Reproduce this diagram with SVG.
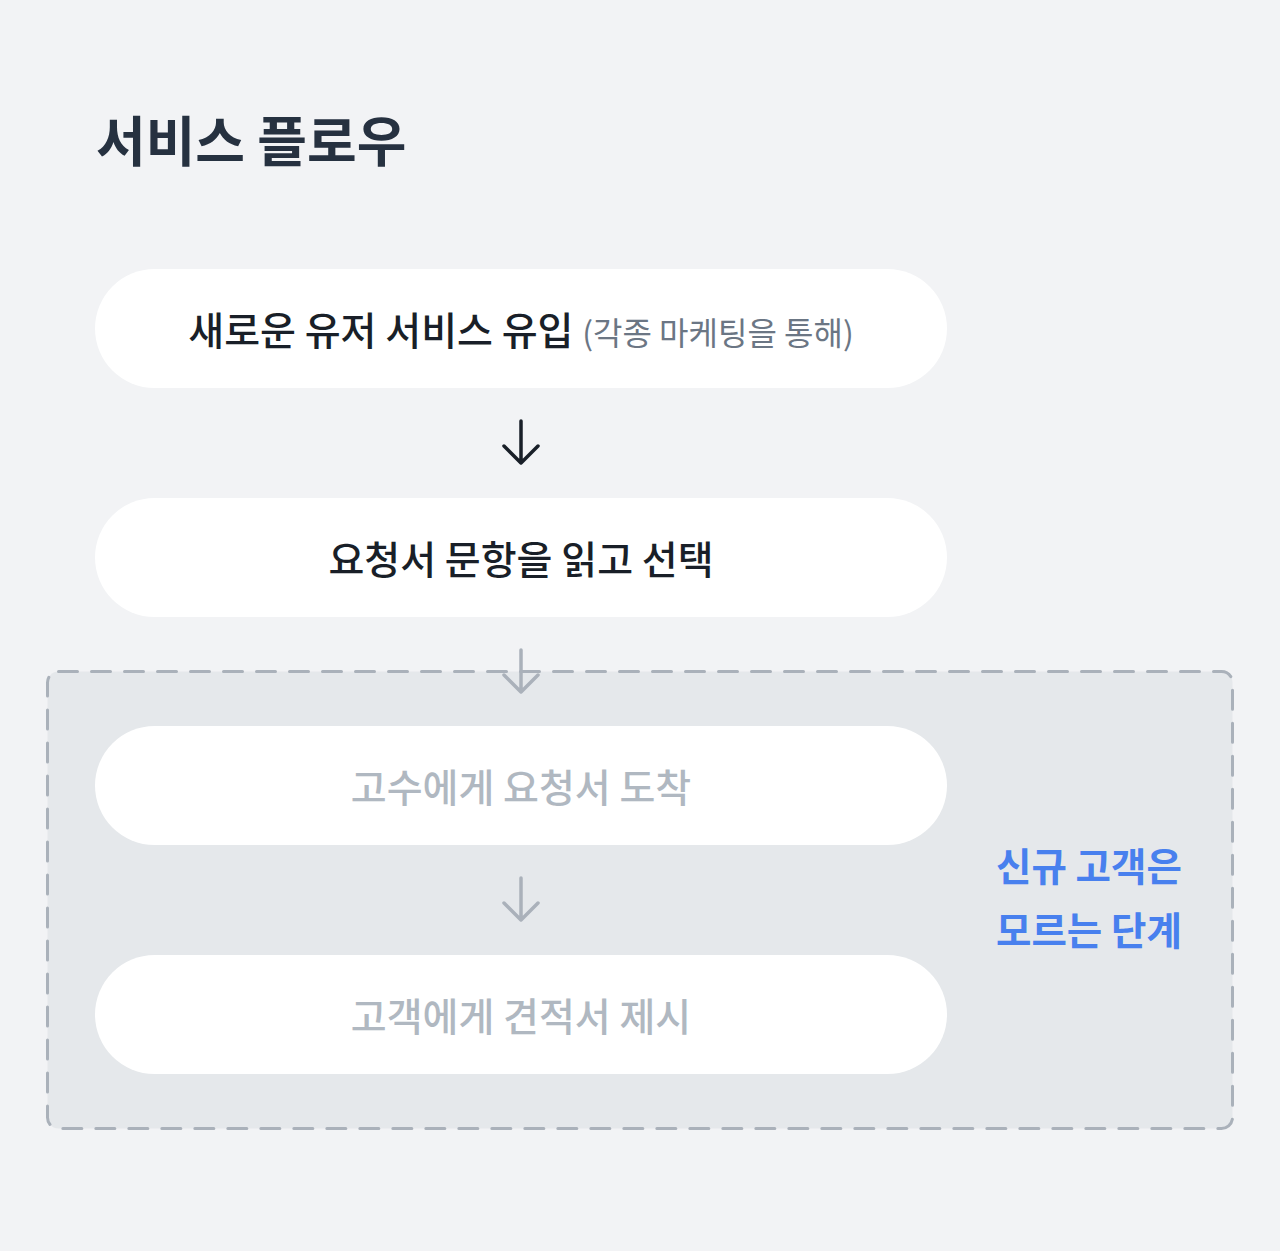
<svg xmlns="http://www.w3.org/2000/svg" width="1280" height="1251" viewBox="0 0 1280 1251">
<style>
.t{font-family:"Noto Sans CJK KR","Noto Sans",sans-serif}
.node{fill:#ffffff}
.lbl{font-size:39px;font-weight:500;fill:#191f28;text-anchor:middle}
.dim{fill:#b0b8c1}
.sub{font-size:32px;font-weight:400;fill:#6b7684}
.arr{fill:none;stroke-width:3.5;stroke-linecap:round;stroke-linejoin:round}
</style>
<rect width="1280" height="1251" fill="#f2f3f5"/>
<text class="t" x="96" y="162" font-size="54" font-weight="700" fill="#263140">서비스 플로우</text>
<g id="group-new">
<rect x="47.5" y="671.5" width="1185" height="457" rx="11" fill="#e5e8eb" stroke="#aab1ba" stroke-width="3" stroke-dasharray="19 14" stroke-linecap="round"/>
<text class="t" x="996" y="881" font-size="38.5" font-weight="700" fill="#4880ee">신규 고객은</text>
<text class="t" x="996" y="945" font-size="38.5" font-weight="700" fill="#4880ee">모르는 단계</text>
</g>
<g id="node1"><rect class="node" x="95" y="269" width="852" height="119" rx="59.5"/>
<text class="t lbl" x="521" y="345">새로운 유저 서비스 유입 <tspan class="sub">(각종 마케팅을 통해)</tspan></text></g>
<g id="node2"><rect class="node" x="95" y="498" width="852" height="119" rx="59.5"/>
<text class="t lbl" x="521" y="574">요청서 문항을 읽고 선택</text></g>
<g id="node3"><rect class="node" x="95" y="726" width="852" height="119" rx="59.5"/>
<text class="t lbl dim" x="521" y="802">고수에게 요청서 도착</text></g>
<g id="node4"><rect class="node" x="95" y="955" width="852" height="119" rx="59.5"/>
<text class="t lbl dim" x="521" y="1031">고객에게 견적서 제시</text></g>
<g id="connectors">
<path class="arr" stroke="#191f28" d="M521 421V463M504 446L521 463L538 446"/>
<path class="arr" stroke="#aab1ba" d="M521 650V692M504 675L521 692L538 675"/>
<path class="arr" stroke="#aab1ba" d="M521 878V920M504 903L521 920L538 903"/>
</g>
</svg>
